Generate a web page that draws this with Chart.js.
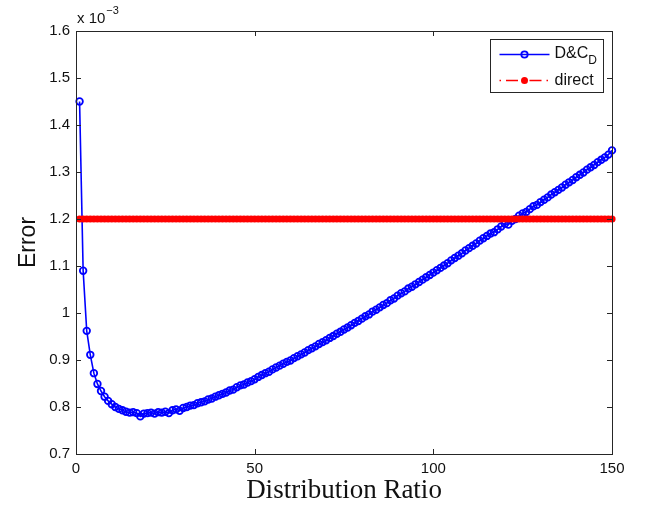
<!DOCTYPE html>
<html>
<head>
<meta charset="utf-8">
<title>Error vs Distribution Ratio</title>
<script src="https://cdn.jsdelivr.net/npm/chart.js@4.4.1/dist/chart.umd.min.js"></script>
<style>
  body { margin: 0; background: #fff; }
  #wrap { width: 646px; height: 510px; }
</style>
</head>
<body>
<div id="wrap"><canvas id="error-chart"></canvas></div>
<script>
// Distribution ratios (x values)
const ratios = [
    1, 2, 3, 4, 5, 6, 7, 8, 9, 10, 11, 12, 13, 14, 15, 16, 17, 18, 19, 20,
    21, 22, 23, 24, 25, 26, 27, 28, 29, 30, 31, 32, 33, 34, 35, 36, 37, 38, 39, 40,
    41, 42, 43, 44, 45, 46, 47, 48, 49, 50, 51, 52, 53, 54, 55, 56, 57, 58, 59, 60,
    61, 62, 63, 64, 65, 66, 67, 68, 69, 70, 71, 72, 73, 74, 75, 76, 77, 78, 79, 80,
    81, 82, 83, 84, 85, 86, 87, 88, 89, 90, 91, 92, 93, 94, 95, 96, 97, 98, 99, 100,
    101, 102, 103, 104, 105, 106, 107, 108, 109, 110, 111, 112, 113, 114, 115, 116, 117, 118, 119, 120,
    121, 122, 123, 124, 125, 126, 127, 128, 129, 130, 131, 132, 133, 134, 135, 136, 137, 138, 139, 140,
    141, 142, 143, 144, 145, 146, 147, 148, 149, 150
];

// D&C_D error, in units of 1e-3
const dcErrors = [
    1.450, 1.090, 0.962, 0.911, 0.872, 0.849, 0.834, 0.822, 0.813, 0.806,
    0.800, 0.796, 0.793, 0.790, 0.788, 0.789, 0.787, 0.780, 0.786, 0.787,
    0.788, 0.786, 0.789, 0.788, 0.790, 0.787, 0.793, 0.795, 0.792, 0.798,
    0.800, 0.803, 0.804, 0.808, 0.810, 0.812, 0.816, 0.818, 0.822, 0.825,
    0.828, 0.831, 0.835, 0.837, 0.842, 0.846, 0.848, 0.852, 0.855, 0.859,
    0.864, 0.868, 0.872, 0.875, 0.880, 0.884, 0.888, 0.892, 0.896, 0.899,
    0.904, 0.908, 0.912, 0.916, 0.921, 0.925, 0.929, 0.934, 0.938, 0.942,
    0.947, 0.951, 0.956, 0.960, 0.965, 0.969, 0.974, 0.979, 0.983, 0.988,
    0.993, 0.997, 1.003, 1.007, 1.012, 1.017, 1.021, 1.027, 1.031, 1.037,
    1.042, 1.046, 1.052, 1.056, 1.061, 1.066, 1.071, 1.076, 1.081, 1.086,
    1.091, 1.096, 1.101, 1.106, 1.112, 1.117, 1.122, 1.127, 1.133, 1.138,
    1.143, 1.148, 1.154, 1.159, 1.164, 1.169, 1.172, 1.178, 1.184, 1.190,
    1.188, 1.196, 1.200, 1.207, 1.212, 1.215, 1.221, 1.227, 1.230, 1.236,
    1.241, 1.246, 1.252, 1.257, 1.262, 1.267, 1.273, 1.278, 1.283, 1.289,
    1.294, 1.299, 1.305, 1.310, 1.315, 1.321, 1.326, 1.331, 1.337, 1.346
];

// direct method error (constant), in units of 1e-3
const directError = 1.2;

// Tick values
const xTicks = [0, 50, 100, 150];
const yTicks = [0.7, 0.8, 0.9, 1.0, 1.1, 1.2, 1.3, 1.4, 1.5, 1.6];

const axisColor = '#262626';
const textColor = '#111';
const sansFont = '"Liberation Sans", Arial, sans-serif';
const blue = '#0000ff';
const red = '#ff0000';

// Draws the MATLAB style box, inward ticks, exponent label and legend
const matlabFrame = {
    id: 'matlabFrame',
    afterDraw(chart) {
        const { ctx, chartArea: a, scales: { x, y } } = chart;
        ctx.save();
        ctx.strokeStyle = axisColor;
        ctx.lineWidth = 1;

        // box
        ctx.strokeRect(Math.round(a.left) + 0.5, Math.round(a.top) + 0.5,
            Math.round(a.right - a.left), Math.round(a.bottom - a.top));

        // inward ticks
        ctx.beginPath();
        xTicks.forEach(v => {
            const px = Math.round(x.getPixelForValue(v)) + 0.5;
            ctx.moveTo(px, a.bottom); ctx.lineTo(px, a.bottom - 5);
            ctx.moveTo(px, a.top); ctx.lineTo(px, a.top + 5);
        });
        yTicks.forEach(v => {
            const py = Math.round(y.getPixelForValue(v)) + 0.5;
            ctx.moveTo(a.left, py); ctx.lineTo(a.left + 5, py);
            ctx.moveTo(a.right, py); ctx.lineTo(a.right - 5, py);
        });
        ctx.stroke();

        // exponent label
        ctx.fillStyle = textColor;
        ctx.textBaseline = 'alphabetic';
        ctx.textAlign = 'left';
        ctx.font = '15px ' + sansFont;
        ctx.fillText('x 10', a.left + 1, a.top - 8);
        const w = ctx.measureText('x 10').width;
        ctx.font = '11px ' + sansFont;
        ctx.fillText('\u22123', a.left + w + 2, a.top - 17);

        // legend
        const bx = Math.round(a.right) - 121.5;
        const by = Math.round(a.top) + 8.5;
        ctx.fillStyle = '#fff';
        ctx.fillRect(bx, by, 113, 53);
        ctx.strokeRect(bx, by, 113, 53);

        const row1 = by + 15;
        const row2 = by + 41;
        const lx0 = bx + 9, lx1 = bx + 59, mx = bx + 34;

        ctx.strokeStyle = blue;
        ctx.lineWidth = 1.5;
        ctx.beginPath();
        ctx.moveTo(lx0, row1); ctx.lineTo(lx1, row1);
        ctx.stroke();
        ctx.lineWidth = 1.8;
        ctx.beginPath();
        ctx.arc(mx, row1, 3.2, 0, Math.PI * 2);
        ctx.stroke();

        ctx.strokeStyle = red;
        ctx.lineWidth = 1.5;
        ctx.setLineDash([1.5, 5, 12, 5]);
        ctx.beginPath();
        ctx.moveTo(lx0, row2); ctx.lineTo(lx1, row2);
        ctx.stroke();
        ctx.setLineDash([]);
        ctx.fillStyle = red;
        ctx.beginPath();
        ctx.arc(mx, row2, 3.5, 0, Math.PI * 2);
        ctx.fill();

        ctx.fillStyle = textColor;
        ctx.textBaseline = 'middle';
        ctx.font = '16px ' + sansFont;
        ctx.fillText('D&C', bx + 64, row1 - 1);
        const dw = ctx.measureText('D&C').width;
        ctx.font = '12px ' + sansFont;
        ctx.fillText('D', bx + 64 + dw, row1 + 6);
        ctx.font = '16px ' + sansFont;
        ctx.fillText('direct', bx + 64, row2);

        ctx.restore();
    }
};

const ctx = document.getElementById('error-chart').getContext('2d');

const errorChart = new Chart(ctx, {
    type: 'line',
    data: {
        datasets: [
            {
                label: 'direct',
                data: ratios.map(r => ({ x: r, y: directError })),
                borderColor: red,
                backgroundColor: red,
                borderWidth: 1.5,
                borderDash: [1.5, 5, 12, 5],
                pointRadius: 3.6,
                pointBorderWidth: 0,
                pointBackgroundColor: red,
                clip: false,
                order: 0
            },
            {
                label: 'D&C_D',
                data: ratios.map((r, i) => ({ x: r, y: dcErrors[i] })),
                borderColor: blue,
                borderWidth: 1.6,
                pointRadius: 3.3,
                pointBorderWidth: 1.8,
                pointBorderColor: blue,
                pointBackgroundColor: 'rgba(0,0,0,0)',
                clip: false,
                order: 1
            }
        ]
    },
    options: {
        responsive: true,
        maintainAspectRatio: false,
        animation: false,
        layout: { padding: { top: 31, right: 34, left: 0, bottom: 0 } },
        plugins: {
            legend: { display: false },
            tooltip: { enabled: false }
        },
        scales: {
            x: {
                type: 'linear',
                min: 0,
                max: 150,
                afterBuildTicks: scale => { scale.ticks = xTicks.map(v => ({ value: v })); },
                afterFit: scale => { scale.height = 56; },
                grid: { display: false, drawTicks: false },
                border: { color: axisColor, width: 1 },
                ticks: { padding: 6, color: textColor, maxRotation: 0, font: { family: sansFont, size: 15 } },
                title: {
                    display: true,
                    text: 'Distribution Ratio',
                    color: textColor,
                    font: { family: '"Liberation Serif", "DejaVu Serif", serif', size: 27, lineHeight: 1 },
                    padding: { top: 0, bottom: 6 }
                }
            },
            y: {
                type: 'linear',
                min: 0.7,
                max: 1.6,
                afterBuildTicks: scale => { scale.ticks = yTicks.map(v => ({ value: v })); },
                afterFit: scale => { scale.width = 76; },
                grid: { display: false, drawTicks: false },
                border: { color: axisColor, width: 1 },
                ticks: {
                    padding: 6,
                    color: textColor,
                    font: { family: sansFont, size: 15 },
                    callback: value => String(Number(value.toFixed(1)))
                },
                title: {
                    display: true,
                    text: 'Error',
                    color: textColor,
                    font: { family: sansFont, size: 23, lineHeight: 1 },
                    padding: { top: 17, bottom: 0 }
                }
            }
        }
    },
    plugins: [matlabFrame]
});
</script>
</body>
</html>
